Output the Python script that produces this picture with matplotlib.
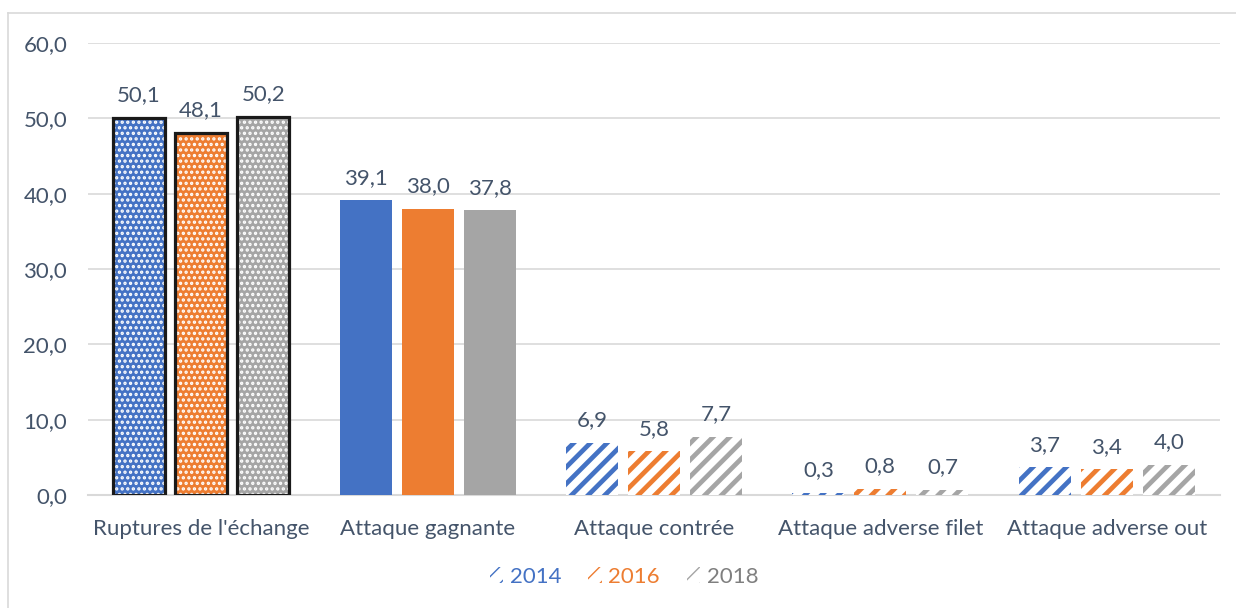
import matplotlib
matplotlib.use("Agg")
import matplotlib.pyplot as plt
from matplotlib.patches import Patch
import numpy as np

categories = ["Ruptures de l'échange", "Attaque gagnante", "Attaque contrée",
              "Attaque adverse filet", "Attaque adverse out"]
years = ["2014", "2016", "2018"]
v2014 = [50.1, 39.1, 6.9, 0.3, 3.7]
v2016 = [48.1, 38.0, 5.8, 0.8, 3.4]
v2018 = [50.2, 37.8, 7.7, 0.7, 4.0]
yticks = [0, 10, 20, 30, 40, 50, 60]

colors = ["#4472C4", "#ED7D31", "#A5A5A5"]
legend_text_colors = ["#4472C4", "#ED7D31", "#7F7F7F"]
text_color = "#44546A"
grid_color = "#D9D9D9"
fs = 16

plt.rcParams["font.family"] = ["Lato", "DejaVu Sans"]

fig = plt.figure(figsize=(12.36, 6.08), dpi=100)
ax = fig.add_axes([0.0712, 0.1859, 0.9158, 0.7434])

def fmt(v):
    return f"{v:.1f}".replace(".", ",")

x = np.arange(len(categories))
width = 0.23
step = 0.274
series = [v2014, v2016, v2018]

for i, (vals, col) in enumerate(zip(series, colors)):
    pos = x + (i - 1) * step
    for j, (p, v) in enumerate(zip(pos, vals)):
        if j == 0:
            # dotted fill with a heavy dark outline
            with plt.rc_context({"hatch.linewidth": 1.6}):
                ax.bar(p, v, width, color=col, edgecolor="white", linewidth=0,
                       hatch="...", zorder=3)
            ax.bar(p, v, width, fill=False, edgecolor="#1A1A1A",
                   linewidth=2.3, zorder=4)
        elif j == 1:
            ax.bar(p, v, width, color=col, linewidth=0, zorder=3)
        else:
            with plt.rc_context({"hatch.linewidth": 3.4}):
                ax.bar(p, v, width, facecolor="white", edgecolor=col,
                       linewidth=0, hatch="//", zorder=3)
        ax.annotate(fmt(v), (p, v), xytext=(0, 9), textcoords="offset points",
                    ha="center", va="bottom", fontsize=fs, color=text_color)

ax.set_xlim(-0.5, len(categories) - 0.5)
ax.set_ylim(0, 60)
ax.set_yticks(yticks)
ax.set_yticklabels([fmt(t) for t in yticks])
ax.set_xticks(x)
ax.set_xticklabels(categories)
ax.tick_params(axis="both", length=0, labelsize=fs, labelcolor=text_color)
ax.tick_params(axis="y", pad=15)
ax.tick_params(axis="x", pad=17)
ax.yaxis.grid(True, color=grid_color, linewidth=1.2, zorder=0)
ax.set_axisbelow(True)
for s in ["top", "right", "left"]:
    ax.spines[s].set_visible(False)
ax.spines["bottom"].set_color(grid_color)
ax.spines["bottom"].set_linewidth(1.5)

with plt.rc_context({"hatch.linewidth": 3.4}):
    handles = [Patch(facecolor="white", edgecolor=c, linewidth=0, hatch="//")
               for c in colors]
leg = fig.legend(handles, years, loc="center", bbox_to_anchor=(0.505, 0.051),
                 ncol=3, frameon=False, fontsize=fs, handlelength=0.6,
                 handleheight=0.7, handletextpad=0.3, columnspacing=1.2)
for t, c in zip(leg.get_texts(), legend_text_colors):
    t.set_color(c)

# outer frame of the chart area (left and top edges)
fig.add_artist(plt.Line2D([8 / 1236, 8 / 1236], [0, 1 - 13 / 608],
                          transform=fig.transFigure, color=grid_color, linewidth=1.2))
fig.add_artist(plt.Line2D([8 / 1236, 1], [1 - 13 / 608, 1 - 13 / 608],
                          transform=fig.transFigure, color=grid_color, linewidth=1.2))

fig.savefig("out.png", dpi=100)
